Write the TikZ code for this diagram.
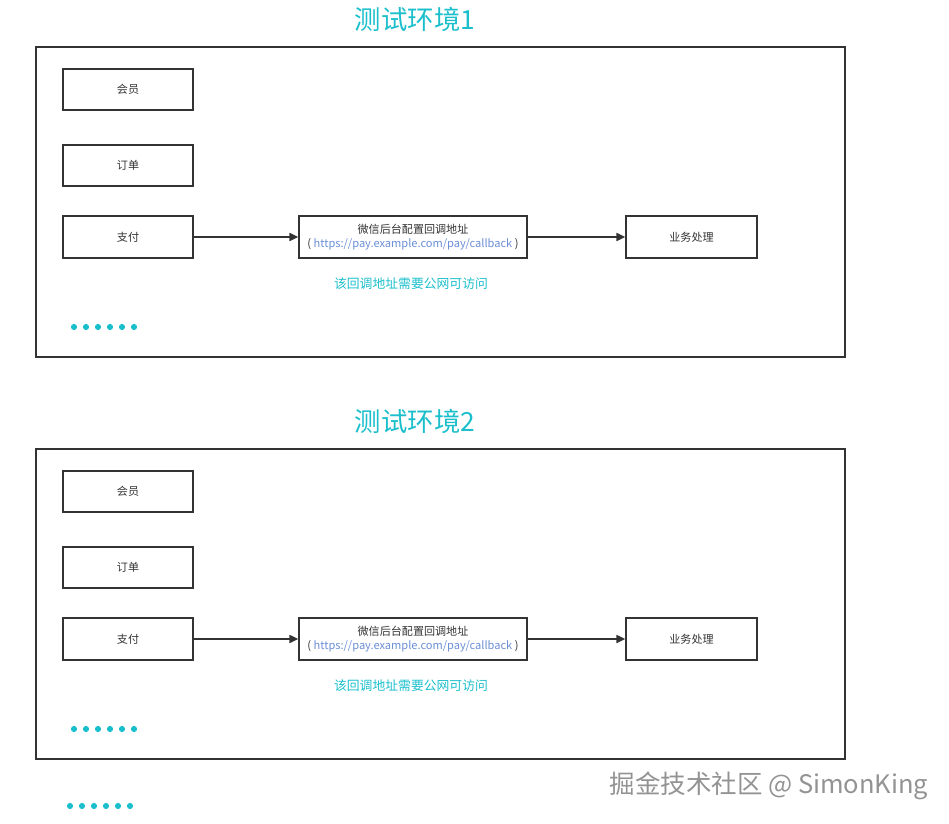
\documentclass[tikz,border=0pt]{standalone}
\usepackage{fontspec}
\setmainfont{Noto Sans CJK SC}
\usetikzlibrary{arrows.meta}
\definecolor{envcyan}{HTML}{1BBFCC}
\definecolor{urlblue}{HTML}{6B8ED6}
\definecolor{linegray}{HTML}{333333}
\begin{document}
\begin{tikzpicture}
[x=0.02cm,y=-0.02cm,
  framedecorate/.style={shape=rectangle,draw=linegray,line width=0.7pt,inner sep=0pt},%
  boxdecorate/.style={shape=rectangle,draw=linegray,line width=0.85pt,inner sep=0pt,
    minimum width=2.6cm,minimum height=0.82cm,text=linegray,font=\fontsize{6.3}{8.2}\selectfont},%
  titledecorate/.style={text=envcyan,font=\fontsize{15}{18}\selectfont},%
  notedecorate/.style={text=envcyan,font=\fontsize{7.3}{9}\selectfont},%
  linedecorate/.style={-{Triangle[length=5pt,width=4.6pt]},draw=linegray,line width=0.8pt}]
\useasboundingbox (0,0) rectangle (949,824);
%% two test environments, 402px apart
\foreach \e/\dy in {1/0, 2/402} {
  \begin{scope}[shift={(0,\dy)}]
    \node (title\e) at (415,19) [titledecorate] {测试环境\e};
    \node (frame\e) at (440.5,202) [framedecorate,minimum width=16.18cm,minimum height=6.2cm] {};
    %% module boxes
    \foreach \nodename/\txt/\y in {hy/会员/89.5, dd/订单/165.5} {
      \node (\nodename\e) at (128,\y) [boxdecorate] {\txt};
    }
    \node (zf\e) at (128,237) [boxdecorate,minimum height=0.84cm] {支付};
    \node (wx\e) at (413,237) [boxdecorate,minimum width=4.56cm,minimum height=0.84cm,align=center]
      {微信后台配置回调地址\\( \textcolor{urlblue}{https://pay.example.com/pay/callback} )};
    \node (yw\e) at (691.5,237) [boxdecorate,minimum width=2.62cm,minimum height=0.84cm] {业务处理};
    \node (note\e) at (411,284) [notedecorate] {该回调地址需要公网可访问};
    %% edges
    \draw[linedecorate] (zf\e) -- (wx\e);
    \draw[linedecorate] (wx\e) -- (yw\e);
    %% dots
    \foreach \i in {0,...,5} {
      \fill[envcyan] (74+\i*12,327) circle (0.062cm);
    }
  \end{scope}
}
\foreach \i in {0,...,5} {
  \fill[envcyan] (70+\i*12,806) circle (0.062cm);
}
\node (mark) at (769,786) [text=gray!85,font=\fontsize{14.5}{16}\selectfont] {掘金技术社区 @ SimonKing};
\end{tikzpicture}
\end{document}
